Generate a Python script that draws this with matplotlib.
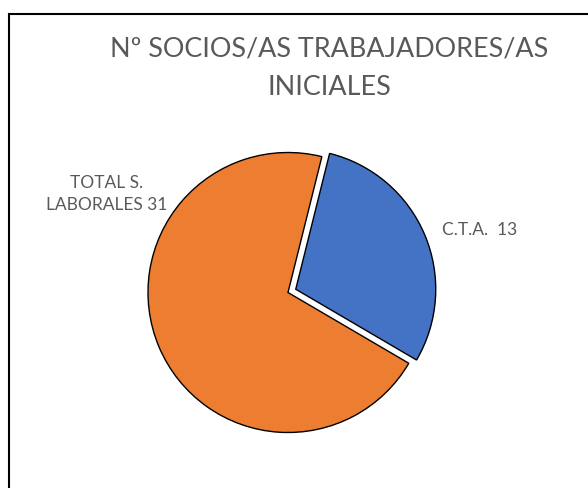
import matplotlib.pyplot as plt
from matplotlib.patches import Rectangle

# ---------- datos ----------
labels = ["C.T.A.  13", "TOTAL S.\nLABORALES 31"]
values = [13, 31]
colors = ["#4472C4", "#ED7D31"]
title_lines = ["Nº SOCIOS/AS TRABAJADORES/AS", "INICIALES"]

plt.rcParams['font.family'] = ['Lato', 'DejaVu Sans']
text_color = "#595959"

fig = plt.figure(figsize=(5.88, 4.88), dpi=100)
ax = fig.add_axes([0, 0, 1, 1])

ax.pie(values, colors=colors, startangle=76, counterclock=False,
       explode=[0.06, 0], radius=1.0,
       wedgeprops=dict(edgecolor="black", linewidth=1.0))

# pixel layout -> data units (radius 1 = 140 px)
ax.set_xlim(-288 / 140, 300 / 140)
ax.set_ylim(-195.5 / 140, 292.5 / 140)
ax.axis("off")

# etiquetas
ax.text(1.371, 0.446, labels[0], ha="center", va="center",
        fontsize=12.5, color=text_color)
ax.text(-1.296, 0.705, labels[1], ha="center", va="center",
        fontsize=12.5, color=text_color, linespacing=1.45)

# titulo
ax.text(0.293, 1.739, title_lines[0], ha="center", va="center",
        fontsize=19.4, color=text_color)
ax.text(0.293, 1.464, title_lines[1], ha="center", va="center",
        fontsize=19.4, color=text_color)

# marco del grafico
fig.add_artist(Rectangle((9 / 588, -0.1), 1.2, (488 - 14) / 488 + 0.1,
                         transform=fig.transFigure, fill=False,
                         edgecolor="black", linewidth=1.5))

fig.savefig("out.png", dpi=100)
